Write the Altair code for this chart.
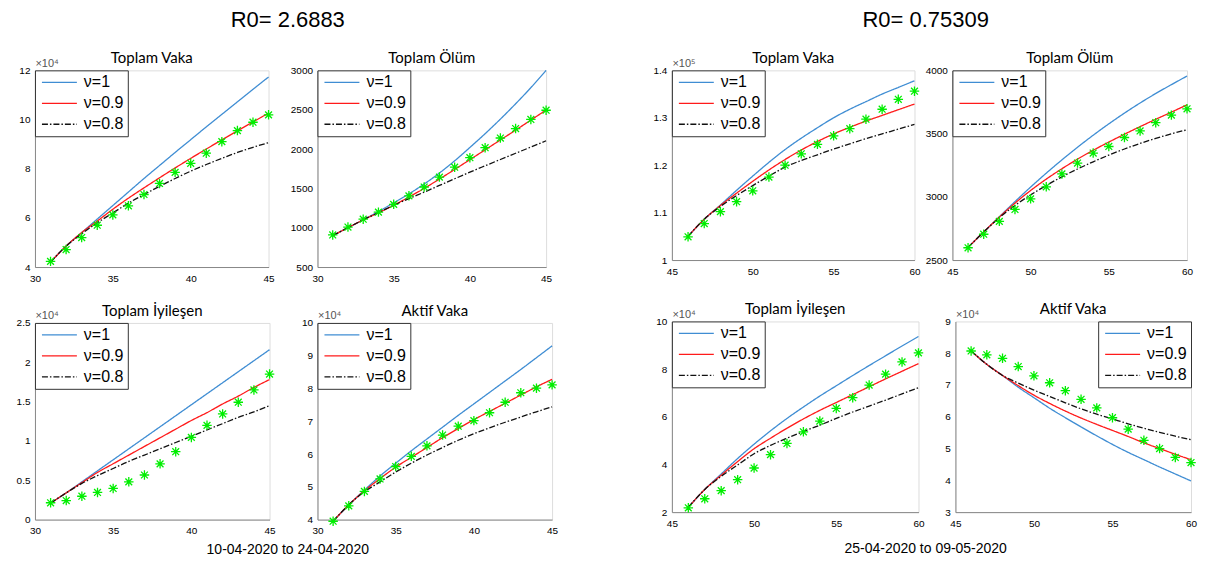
import altair as alt
import pandas as pd

# ---------------- data ----------------
days_L = list(range(31, 46))   # 10-04-2020 .. 24-04-2020
days_R = list(range(46, 61))   # 25-04-2020 .. 09-05-2020
series_names = ["ν=1", "ν=0.9", "ν=0.8"]

# Left group, R0 = 2.6883
vakaL_obs = [4.23, 4.71, 5.20, 5.70, 6.12, 6.49, 6.95, 7.40, 7.85, 8.22, 8.63, 9.10, 9.55, 9.89, 10.19]
vakaL_v1 = [4.2, 4.85, 5.4, 5.95, 6.5, 7.05, 7.6, 8.13, 8.66, 9.18, 9.7, 10.21, 10.72, 11.23, 11.73]
vakaL_v09 = [4.2, 4.85, 5.4, 5.87, 6.35, 6.8, 7.22, 7.63, 8.03, 8.42, 8.8, 9.17, 9.54, 9.9, 10.26]
vakaL_v08 = [4.2, 4.85, 5.35, 5.8, 6.2, 6.6, 6.95, 7.28, 7.6, 7.9, 8.17, 8.42, 8.66, 8.87, 9.06]

olumL_obs = [908, 1008, 1108, 1198, 1297, 1405, 1517, 1643, 1769, 1890, 2017, 2140, 2260, 2376, 2493]
olumL_v1 = [900, 1000, 1100, 1205, 1315, 1430, 1555, 1695, 1850, 2020, 2195, 2380, 2575, 2780, 3000]
olumL_v09 = [900, 1000, 1100, 1190, 1285, 1390, 1500, 1618, 1740, 1865, 1990, 2115, 2240, 2368, 2495]
olumL_v08 = [900, 1000, 1100, 1190, 1285, 1370, 1452, 1537, 1622, 1706, 1787, 1867, 1946, 2025, 2105]

iyiL_obs = [0.214, 0.242, 0.297, 0.345, 0.396, 0.48, 0.567, 0.709, 0.863, 1.045, 1.198, 1.343, 1.492, 1.648, 1.85]
iyiL_v1 = [0.21, 0.34, 0.48, 0.62, 0.76, 0.9, 1.04, 1.18, 1.32, 1.46, 1.6, 1.74, 1.88, 2.02, 2.16]
iyiL_v09 = [0.21, 0.34, 0.47, 0.6, 0.71, 0.82, 0.93, 1.04, 1.15, 1.26, 1.36, 1.47, 1.57, 1.68, 1.78]
iyiL_v08 = [0.21, 0.34, 0.46, 0.56, 0.65, 0.74, 0.82, 0.9, 0.98, 1.06, 1.14, 1.22, 1.3, 1.37, 1.45]

aktifL_obs = [3.95, 4.42, 4.86, 5.24, 5.62, 5.93, 6.25, 6.58, 6.85, 7.02, 7.26, 7.58, 7.87, 8.01, 8.11]
aktifL_v1 = [3.95, 4.45, 4.9, 5.33, 5.72, 6.1, 6.46, 6.82, 7.18, 7.53, 7.88, 8.23, 8.58, 8.94, 9.3]
aktifL_v09 = [3.95, 4.45, 4.88, 5.25, 5.6, 5.9, 6.2, 6.5, 6.78, 7.05, 7.3, 7.55, 7.8, 8.05, 8.28]
aktifL_v08 = [3.95, 4.45, 4.85, 5.15, 5.45, 5.72, 5.97, 6.2, 6.42, 6.62, 6.8, 6.97, 7.13, 7.29, 7.44]

# Right group, R0 = 0.75309
vakaR_obs = [1.049, 1.077, 1.102, 1.123, 1.146, 1.175, 1.2, 1.224, 1.244, 1.262, 1.277, 1.297, 1.318, 1.339, 1.356]
vakaR_v1 = [1.05, 1.086, 1.116, 1.147, 1.177, 1.206, 1.233, 1.257, 1.279, 1.3, 1.318, 1.334, 1.35, 1.364, 1.378]
vakaR_v09 = [1.05, 1.086, 1.115, 1.141, 1.166, 1.19, 1.212, 1.232, 1.25, 1.266, 1.28, 1.293, 1.305, 1.317, 1.329]
vakaR_v08 = [1.05, 1.086, 1.113, 1.136, 1.157, 1.177, 1.196, 1.21, 1.222, 1.234, 1.245, 1.256, 1.266, 1.276, 1.286]

olumR_obs = [2597, 2704, 2806, 2900, 2984, 3079, 3181, 3267, 3346, 3398, 3469, 3521, 3586, 3646, 3696]
olumR_v1 = [2600, 2722, 2842, 2962, 3077, 3187, 3292, 3392, 3487, 3577, 3662, 3742, 3817, 3887, 3955]
olumR_v09 = [2600, 2722, 2840, 2950, 3050, 3140, 3222, 3298, 3368, 3433, 3495, 3555, 3613, 3670, 3727]
olumR_v08 = [2600, 2722, 2835, 2932, 3015, 3090, 3158, 3220, 3277, 3330, 3378, 3422, 3462, 3498, 3530]

iyiR_obs = [2.18, 2.56, 2.9, 3.36, 3.85, 4.41, 4.88, 5.37, 5.82, 6.35, 6.8, 7.33, 7.79, 8.3, 8.68]
iyiR_v1 = [2.2, 2.95, 3.6, 4.25, 4.85, 5.41, 5.93, 6.41, 6.87, 7.3, 7.73, 8.15, 8.56, 8.97, 9.37]
iyiR_v09 = [2.2, 2.95, 3.55, 4.12, 4.66, 5.1, 5.52, 5.91, 6.27, 6.6, 6.93, 7.26, 7.59, 7.91, 8.23]
iyiR_v08 = [2.2, 2.95, 3.5, 3.98, 4.45, 4.8, 5.1, 5.38, 5.65, 5.93, 6.2, 6.45, 6.7, 6.96, 7.22]

aktifR_obs = [8.07, 7.95, 7.84, 7.58, 7.29, 7.07, 6.82, 6.55, 6.28, 5.97, 5.61, 5.26, 5.0, 4.72, 4.56]
aktifR_v1 = [8.07, 7.65, 7.3, 6.93, 6.6, 6.27, 5.97, 5.68, 5.4, 5.13, 4.88, 4.65, 4.42, 4.2, 3.98]
aktifR_v09 = [8.07, 7.65, 7.3, 6.98, 6.68, 6.42, 6.18, 5.96, 5.76, 5.57, 5.38, 5.18, 5.0, 4.82, 4.65]
aktifR_v08 = [8.07, 7.65, 7.3, 7.06, 6.84, 6.64, 6.44, 6.25, 6.08, 5.93, 5.78, 5.64, 5.51, 5.39, 5.28]

# ---------------- styling ----------------
LINE_COLORS = ["#3F8DD3", "#FF1A1A", "#111111"]
LINE_DASHES = [[1, 0], [1, 0], [6, 2, 1.5, 2]]
ASTERISK = "M-1,0L1,0M0,-1L0,1M-0.72,-0.72L0.72,0.72M-0.72,0.72L0.72,-0.72"
LEGEND_LINE = "M-1,0L6,0"   # long horizontal legend sample on a small symbol box
SANS = "Liberation Sans"
AXIS_COLOR = "#262626"
LABEL_EXPR = "'' + datum.value"


def panel(days, v1, v09, v08, obs, title, ydom, yticks, xdom, xticks, exp,
          w, h, legend_orient="top-left"):
    n = len(days)
    lines = pd.DataFrame({
        "day": days * 3,
        "val": v1 + v09 + v08,
        "model": [s for s in series_names for _ in range(n)],
    })
    pts = pd.DataFrame({"day": days, "val": obs})

    x = alt.X("day:Q", title=None,
              scale=alt.Scale(domain=xdom, nice=False, zero=False),
              axis=alt.Axis(values=xticks, labelExpr=LABEL_EXPR, grid=False, ticks=False,
                            labelFlush=False, labelPadding=6))
    y = alt.Y("val:Q",
              scale=alt.Scale(domain=ydom, nice=False, zero=False),
              axis=alt.Axis(values=yticks, labelExpr=LABEL_EXPR, grid=False, ticks=False,
                            labelPadding=5, title=exp,
                            titleAngle=0, titleAlign="left", titleBaseline="bottom",
                            titleX=0, titleY=-2, titleFontSize=11,
                            titleFont=SANS, titleFontWeight="normal",
                            titleColor="#555555"))
    leg = alt.Legend(title=None, orient=legend_orient, offset=0, padding=4,
                     strokeColor="#333333", fillColor="white",
                     symbolType=LEGEND_LINE, symbolSize=100, symbolStrokeWidth=1.3,
                     labelFont=SANS, labelFontSize=16, labelColor="black",
                     labelOffset=29, rowPadding=5)
    line = alt.Chart(lines).mark_line(interpolate="monotone", strokeWidth=1.3).encode(
        x=x, y=y,
        color=alt.Color("model:N", sort=series_names,
                        scale=alt.Scale(domain=series_names, range=LINE_COLORS), legend=leg),
        strokeDash=alt.StrokeDash("model:N", sort=series_names,
                                  scale=alt.Scale(domain=series_names, range=LINE_DASHES),
                                  legend=leg),
    )
    stars = alt.Chart(pts).mark_point(shape=ASTERISK, filled=False, color="#00EE00",
                                      size=90, strokeWidth=1.3, opacity=1).encode(x=x, y=y)
    return alt.layer(line, stars).properties(
        width=w, height=h,
        title=alt.Title(title, font="Lato", fontSize=15, fontWeight="normal",
                        color="black", offset=-9),
    )


def indep(c):
    return c.resolve_scale(color="independent", strokeDash="independent").resolve_legend(
        color="independent", strokeDash="independent")


xL = [30, 45]
xR = [45, 60]
xtL = [30, 35, 40, 45]
xtR = [45, 50, 55, 60]
E4 = "×10⁴"
E5 = "×10⁵"

p1 = panel(days_L, vakaL_v1, vakaL_v09, vakaL_v08, vakaL_obs, "Toplam Vaka",
           [4, 12], [4, 6, 8, 10, 12], xL, xtL, E4, 234, 197)
p2 = panel(days_L, olumL_v1, olumL_v09, olumL_v08, olumL_obs, "Toplam Ölüm",
           [500, 3000], [500, 1000, 1500, 2000, 2500, 3000], xL, xtL, " ", 229, 197)
p3 = panel(days_L, iyiL_v1, iyiL_v09, iyiL_v08, iyiL_obs, "Toplam İyileşen",
           [0, 2.5], [0, 0.5, 1, 1.5, 2, 2.5], xL, xtL, E4, 235, 197)
p4 = panel(days_L, aktifL_v1, aktifL_v09, aktifL_v08, aktifL_obs, "Aktif Vaka",
           [4, 10], [4, 5, 6, 7, 8, 9, 10], xL, xtL, E4, 235, 197)

p5 = panel(days_R, vakaR_v1, vakaR_v09, vakaR_v08, vakaR_obs, "Toplam Vaka",
           [1, 1.4], [1, 1.1, 1.2, 1.3, 1.4], xR, xtR, E5, 243, 190)
p6 = panel(days_R, olumR_v1, olumR_v09, olumR_v08, olumR_obs, "Toplam Ölüm",
           [2500, 4000], [2500, 3000, 3500, 4000], xR, xtR, " ", 235, 190)
p7 = panel(days_R, iyiR_v1, iyiR_v09, iyiR_v08, iyiR_obs, "Toplam İyileşen",
           [2, 10], [2, 4, 6, 8, 10], xR, xtR, E4, 247, 191)
p8 = panel(days_R, aktifR_v1, aktifR_v09, aktifR_v08, aktifR_obs, "Aktif Vaka",
           [3, 9], [3, 4, 5, 6, 7, 8, 9], xR, xtR, E4, 236, 191, legend_orient="top-right")


def big_title(text, offset):
    return alt.Title(text, font=SANS, fontSize=22, fontWeight="normal", color="black",
                     anchor="middle", offset=offset)


def bottom_title(text, offset):
    return alt.Title(text, orient="bottom", font=SANS, fontSize=14, fontWeight="normal",
                     color="black", anchor="middle", offset=offset)


left_inner = indep(alt.vconcat(indep(alt.hconcat(p1, p2, spacing=13)),
                               indep(alt.hconcat(p3, p4, spacing=23)),
                               spacing=19, title=big_title("R0= 2.6883", 19)))
left = indep(alt.vconcat(left_inner, title=bottom_title("10-04-2020 to 24-04-2020", 7)))

right_inner = indep(alt.vconcat(indep(alt.hconcat(p5, p6, spacing=2)),
                                indep(alt.hconcat(p7, p8, spacing=17)),
                                spacing=24.5, title=big_title("R0= 0.75309", 19)))
right = indep(alt.vconcat(right_inner, title=bottom_title("25-04-2020 to 09-05-2020", 13.5)))

chart = indep(alt.hconcat(left, right, spacing=92)).properties(
    padding={"left": 7, "top": 0, "right": 0, "bottom": 0}
).configure_view(
    stroke=AXIS_COLOR, strokeWidth=1
).configure_axis(
    grid=False, ticks=False, domainColor=AXIS_COLOR, domainWidth=1,
    labelFont=SANS, labelFontSize=11.5, labelColor=AXIS_COLOR,
).configure(background="white")

chart.save("out.html", embed_options={"renderer": "svg", "actions": False})
